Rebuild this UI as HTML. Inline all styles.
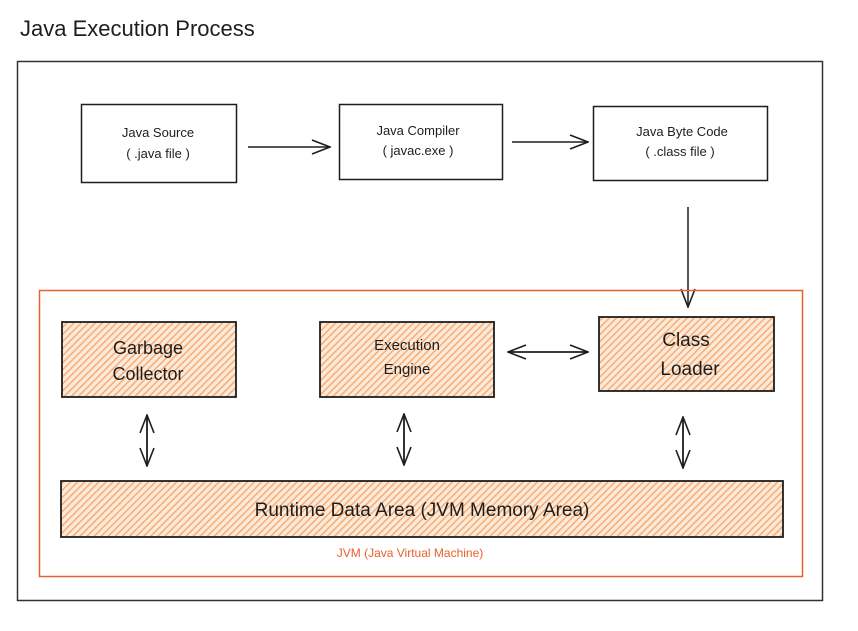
<!DOCTYPE html>
<html><head><meta charset="utf-8"><style>
html,body{margin:0;padding:0;background:#fff;width:858px;height:631px;overflow:hidden}
svg text{font-family:"Liberation Sans",sans-serif;fill:#1e1e1e}
</style></head><body>
<svg width="858" height="631" viewBox="0 0 858 631" xmlns="http://www.w3.org/2000/svg">
<defs>
<pattern id="h" width="5" height="5" patternUnits="userSpaceOnUse" patternTransform="rotate(-45)">
<rect width="5" height="5" fill="#fde9d8"/>
<rect width="5" height="1.4" fill="#f5a970"/>
</pattern>
<marker id="a" viewBox="0 0 20 20" refX="19" refY="10" markerWidth="20" markerHeight="20" orient="auto-start-reverse" markerUnits="userSpaceOnUse">
<path d="M1 3 L19 10 L1 17" fill="none" stroke="#1e1e1e" stroke-width="1.6"/>
</marker>
</defs>
<text x="20" y="36" font-size="22">Java Execution Process</text>
<rect x="17.5" y="61.5" width="805" height="539" fill="none" stroke="#333" stroke-width="1.5"/>

<rect x="81.5" y="104.5" width="155" height="78" fill="none" stroke="#1e1e1e" stroke-width="1.5"/>
<text x="158" y="137" font-size="13" text-anchor="middle">Java Source</text>
<text x="158" y="158" font-size="13" text-anchor="middle">( .java file )</text>

<rect x="339.5" y="104.5" width="163" height="75" fill="none" stroke="#1e1e1e" stroke-width="1.5"/>
<text x="418" y="135" font-size="13" text-anchor="middle">Java Compiler</text>
<text x="418" y="155" font-size="13" text-anchor="middle">( javac.exe )</text>

<rect x="593.5" y="106.5" width="174" height="74" fill="none" stroke="#1e1e1e" stroke-width="1.5"/>
<text x="682" y="136" font-size="13" text-anchor="middle">Java Byte Code</text>
<text x="680" y="156" font-size="13" text-anchor="middle">( .class file )</text>

<line x1="248" y1="147" x2="330" y2="147" stroke="#1e1e1e" stroke-width="1.5" marker-end="url(#a)"/>
<line x1="512" y1="142" x2="588" y2="142" stroke="#1e1e1e" stroke-width="1.5" marker-end="url(#a)"/>
<line x1="688" y1="207" x2="688" y2="307" stroke="#1e1e1e" stroke-width="1.5" marker-end="url(#a)"/>

<rect x="39.5" y="290.5" width="763" height="286" fill="none" stroke="#e8602c" stroke-width="1.5"/>

<rect x="62" y="322" width="174" height="75" fill="url(#h)" stroke="#1e1e1e" stroke-width="1.8"/>
<text x="148" y="354" font-size="18" text-anchor="middle">Garbage</text>
<text x="148" y="380" font-size="18" text-anchor="middle">Collector</text>

<rect x="320" y="322" width="174" height="75" fill="url(#h)" stroke="#1e1e1e" stroke-width="1.8"/>
<text x="407" y="350" font-size="15" text-anchor="middle">Execution</text>
<text x="407" y="374" font-size="15" text-anchor="middle">Engine</text>

<rect x="599" y="317" width="175" height="74" fill="url(#h)" stroke="#1e1e1e" stroke-width="1.8"/>
<text x="686" y="346" font-size="19" text-anchor="middle">Class</text>
<text x="690" y="375" font-size="19" text-anchor="middle">Loader</text>

<line x1="508" y1="352" x2="588" y2="352" stroke="#1e1e1e" stroke-width="1.8" marker-start="url(#a)" marker-end="url(#a)"/>
<line x1="147" y1="415" x2="147" y2="466" stroke="#1e1e1e" stroke-width="1.8" marker-start="url(#a)" marker-end="url(#a)"/>
<line x1="404" y1="414" x2="404" y2="465" stroke="#1e1e1e" stroke-width="1.8" marker-start="url(#a)" marker-end="url(#a)"/>
<line x1="683" y1="417" x2="683" y2="468" stroke="#1e1e1e" stroke-width="1.8" marker-start="url(#a)" marker-end="url(#a)"/>

<rect x="61" y="481" width="722" height="56" fill="url(#h)" stroke="#1e1e1e" stroke-width="1.8"/>
<text x="422" y="516" font-size="19" text-anchor="middle">Runtime Data Area (JVM Memory Area)</text>

<text x="410" y="557" font-size="12" text-anchor="middle" style="fill:#e8602c">JVM (Java Virtual Machine)</text>
</svg>
</body></html>
